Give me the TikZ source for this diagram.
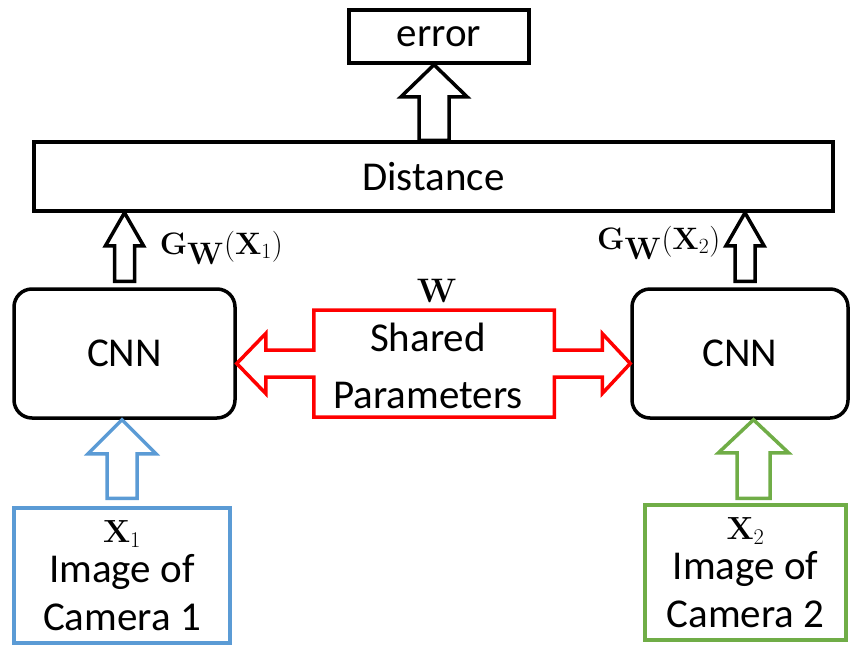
\RequirePackage{fix-cm}
\documentclass[tikz,border=0pt]{standalone}
\usepackage{amsmath,amssymb}
\usepackage[no-math]{fontspec}
\setmainfont{Carlito}
\usepackage{tikz}
\usetikzlibrary{calc}
\definecolor{camblue}{RGB}{91,155,213}
\definecolor{camgreen}{RGB}{112,173,71}
% hollow block arrow pointing up: style, from, to, shaft half width, head half width, head length
\newcommand{\fatarrow}[6]{%
\draw[#1] let \p1=(#2), \p2=(#3) in
(\x1-#4,\y1) -- (\x1-#4,\y2-#6) -- (\x1-#5,\y2-#6) -- (\x1,\y2)
-- (\x1+#5,\y2-#6) -- (\x1+#4,\y2-#6) -- (\x1+#4,\y1) -- cycle;}

\begin{document}
\begin{tikzpicture}[x=1pt, y=-1pt, line width=3.5pt, inner sep=0pt,
every node/.style={font=\fontsize{41}{48}\selectfont},
box/.style={draw, rectangle},
cnn/.style={draw, rounded corners=18pt, minimum width=221pt, minimum height=129pt},
cam/.style={draw, align=center, minimum height=135pt},
lbl/.style={font=\fontsize{31}{36}\selectfont}]
\useasboundingbox (0,0) rectangle (853,648);

\node[box, minimum width=180pt, minimum height=53pt] (err) at (439,36.5) {error};
\node[box, minimum width=799pt, minimum height=69pt] (dist) at (433.5,176.5) {Distance};
\node[cnn] (cnnL) at (124.5,353.5) {CNN};
\node[cnn, minimum width=216pt] (cnnR) at (740,353.5) {CNN};
\node[cam, draw=camblue, minimum width=216pt] (cam1) at (122,575.5)
  {{\fontsize{32}{36}\selectfont$\mathbf{X}_1$}\\[-8pt]Image of\\Camera 1};
\node[cam, draw=camgreen, minimum width=201pt] (cam2) at (745.5,572.5)
  {{\fontsize{32}{36}\selectfont$\mathbf{X}_2$}\\[-8pt]Image of\\Camera 2};

\node[lbl, anchor=west] (gw1) at (158,248) {$\mathbf{G}_{\textstyle\mathbf{W}}(\mathbf{X}_1)$};
\node[lbl, anchor=east] (gw2) at (722,243) {$\mathbf{G}_{\textstyle\mathbf{W}}(\mathbf{X}_2)$};
\node[lbl, font=\fontsize{34}{40}\selectfont] (w) at (437,291) {$\mathbf{W}$};
\node[align=center, font=\fontsize{41}{57}\selectfont] (shared) at (428,366) {Shared\\Parameters};

% block arrows
\fatarrow{black}{[yshift=6pt]cnnL.north}{dist.south}{10pt}{19pt}{33pt}
\fatarrow{black}{[xshift=5pt,yshift=6pt]cnnR.north}{dist.south}{10pt}{19pt}{33pt}
\fatarrow{black}{[xshift=0.5pt]dist.north}{err.south}{15pt}{33pt}{32pt}
\fatarrow{camblue}{[yshift=8pt]cam1.north}{cnnL.south}{15pt}{34pt}{34pt}
\fatarrow{camgreen}{[xshift=8pt,yshift=5pt]cam2.north}{cnnR.south}{16.5pt}{35pt}{33pt}

% shared weights
\draw[red] let \p1=([yshift=-10pt]cnnL.east), \p2=([yshift=-10pt]cnnR.west) in
(\p1) -- (\x1+29pt,\y1+30pt) -- (\x1+29pt,\y1+13.5pt) -- (\x1+77pt,\y1+13.5pt)
-- (\x1+77pt,\y1+53.5pt) -- (\x2-76pt,\y1+53.5pt) -- (\x2-76pt,\y1+13.5pt)
-- (\x2-28pt,\y1+13.5pt) -- (\x2-28pt,\y1+30pt) -- (\p2)
-- (\x2-28pt,\y1-30pt) -- (\x2-28pt,\y1-13.5pt) -- (\x2-76pt,\y1-13.5pt)
-- (\x2-76pt,\y1-53.5pt) -- (\x1+77pt,\y1-53.5pt) -- (\x1+77pt,\y1-13.5pt)
-- (\x1+29pt,\y1-13.5pt) -- (\x1+29pt,\y1-30pt) -- cycle;
\end{tikzpicture}
\end{document}
